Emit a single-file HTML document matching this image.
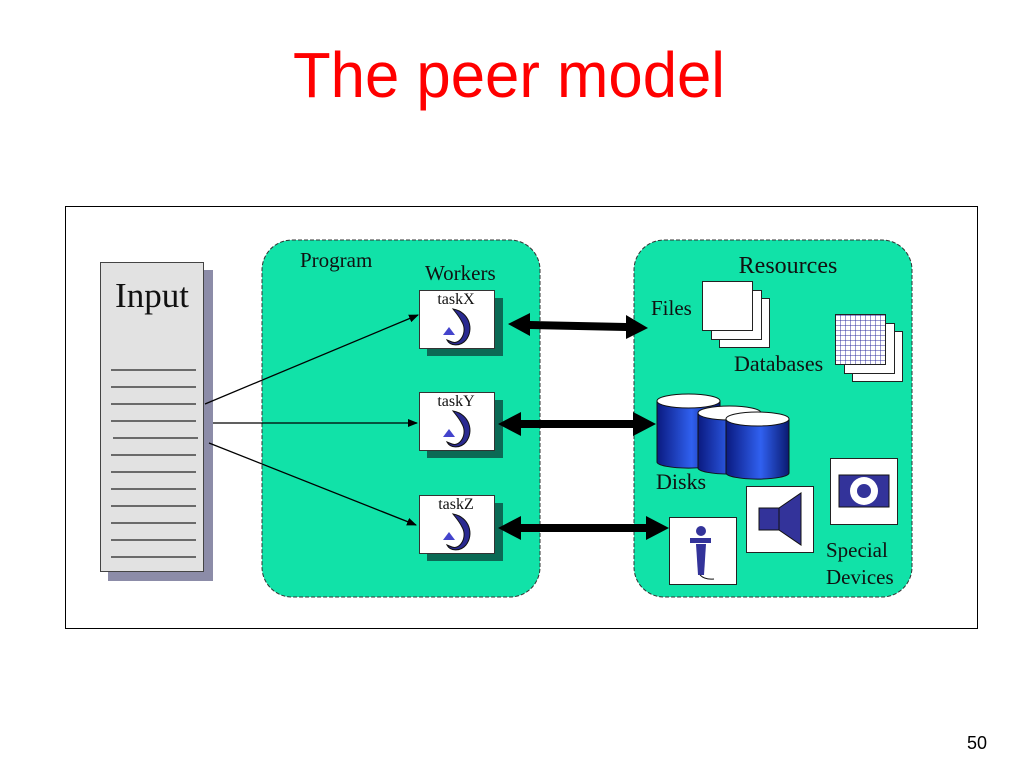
<!DOCTYPE html>
<html><head><meta charset="utf-8"><style>
html,body{margin:0;padding:0;background:#fff;}
svg{display:block;}
.s{font-family:"Liberation Serif",serif;fill:#111;}
</style></head><body>
<svg width="1024" height="768" viewBox="0 0 1024 768" xmlns="http://www.w3.org/2000/svg">
<defs>
<marker id="ah" markerWidth="10" markerHeight="8" refX="9" refY="4" orient="auto" markerUnits="userSpaceOnUse"><path d="M0,0 L10,4 L0,8 z" fill="#000"/></marker>
<linearGradient id="cg" x1="0" x2="1" y1="0" y2="0"><stop offset="0" stop-color="#0a1a80"/><stop offset="0.55" stop-color="#3060f0"/><stop offset="1" stop-color="#0a1a70"/></linearGradient>
<pattern id="grid" width="5" height="5" patternUnits="userSpaceOnUse"><rect width="5" height="5" fill="#fff"/><path d="M0,0 H5 M0,0 V5" stroke="#3030a0" stroke-width="1"/></pattern>
</defs>
<text x="293" y="97" textLength="432" lengthAdjust="spacingAndGlyphs" font-family="Liberation Sans,sans-serif" font-size="64" fill="#ff0000">The peer model</text>
<rect x="65.5" y="206.5" width="912" height="422" fill="#fff" stroke="#000"/>
<rect x="262" y="240" width="278" height="357" rx="30" fill="#11e2a8" stroke="#333" stroke-dasharray="4,2"/>
<rect x="634" y="240" width="278" height="357" rx="30" fill="#11e2a8" stroke="#333" stroke-dasharray="4,2"/>
<!-- input -->
<rect x="108" y="270" width="105" height="311" fill="#8c8ca8"/>
<rect x="100.5" y="262.5" width="103" height="309" fill="#e2e2e2" stroke="#444"/>
<text x="152" y="307" class="s" font-size="35" text-anchor="middle">Input</text>
<g stroke="#222" stroke-width="1.2">
<line x1="111" y1="370" x2="196" y2="370"/><line x1="111" y1="387" x2="196" y2="387"/><line x1="111" y1="404" x2="196" y2="404"/><line x1="111" y1="421" x2="196" y2="421"/><line x1="113" y1="438" x2="198" y2="438"/><line x1="111" y1="455" x2="196" y2="455"/><line x1="111" y1="472" x2="196" y2="472"/><line x1="111" y1="489" x2="196" y2="489"/><line x1="111" y1="506" x2="196" y2="506"/><line x1="111" y1="523" x2="196" y2="523"/><line x1="111" y1="540" x2="196" y2="540"/><line x1="111" y1="557" x2="196" y2="557"/>
</g>
<text x="300" y="267" class="s" font-size="21">Program</text>
<text x="425" y="280" class="s" font-size="21">Workers</text>
<g stroke="#000" stroke-width="1.3" marker-end="url(#ah)">
<line x1="205" y1="404" x2="418" y2="315"/><line x1="213" y1="423" x2="417" y2="423"/><line x1="209" y1="443" x2="416" y2="525"/>
</g>
<!-- tasks -->
<g id="t">
<rect x="427" y="298" width="76" height="58" fill="#0b6a55"/>
<rect x="419.5" y="290.5" width="75" height="58" fill="#fff" stroke="#333"/>
<path d="M453,309 C470,312 474,330 466,340 C460,347 450,346 447,340 L452,342 C460,345 468,332 462,322 C459,316 456,313 453,309 z" fill="#2a2a90" stroke="#111" stroke-width="1"/>
<polygon points="443,335 449,327 455,335" fill="#4444cc"/>
</g>
<text x="456" y="304" class="s" font-size="16" text-anchor="middle">taskX</text>
<use href="#t" transform="translate(0,102)"/>
<text x="456" y="406" class="s" font-size="16" text-anchor="middle">taskY</text>
<use href="#t" transform="translate(0,205)"/>
<text x="456" y="509" class="s" font-size="16" text-anchor="middle">taskZ</text>
<!-- double arrows -->
<g fill="#000">
<path d="M508,324 L530,313 L530,321 L626,323 L626,315 L648,328 L626,339 L626,331 L530,329 L530,336 z"/>
<path d="M498,424 L521,412 L521,420 L633,420 L633,412 L656,424 L633,436 L633,428 L521,428 L521,436 z"/>
<path d="M498,528 L521,516 L521,524 L646,524 L646,516 L669,528 L646,540 L646,532 L521,532 L521,540 z"/>
</g>
<!-- resources -->
<text x="788" y="273" class="s" font-size="24" text-anchor="middle">Resources</text>
<text x="651" y="315" class="s" font-size="21">Files</text>
<g fill="#fff" stroke="#222">
<rect x="719.5" y="298.5" width="50" height="49"/><rect x="711.5" y="290.5" width="50" height="49"/><rect x="702.5" y="281.5" width="50" height="49"/>
<rect x="852.5" y="331.5" width="50" height="50"/><rect x="844.5" y="323.5" width="50" height="50"/>
</g>
<rect x="835.5" y="314.5" width="50" height="50" fill="url(#grid)" stroke="#222"/>
<text x="734" y="371" class="s" font-size="22">Databases</text>
<!-- cylinders -->
<g stroke="#111">
<path d="M657,401 V462 A31,6 0 0 0 720,462 V401" fill="url(#cg)"/><ellipse cx="688.5" cy="401" rx="31.5" ry="7" fill="#fff"/>
<path d="M698,413 V468 A31,6 0 0 0 761,468 V413" fill="url(#cg)"/><ellipse cx="729.5" cy="413" rx="31.5" ry="7" fill="#fff"/>
<path d="M726,419 V473 A31,6 0 0 0 789,473 V419" fill="url(#cg)"/><ellipse cx="757.5" cy="419" rx="31.5" ry="7" fill="#fff"/>
</g>
<text x="656" y="489" class="s" font-size="22">Disks</text>
<!-- devices -->
<g fill="#fff" stroke="#222">
<rect x="830.5" y="458.5" width="67" height="66"/><rect x="746.5" y="486.5" width="67" height="66"/><rect x="669.5" y="517.5" width="67" height="67"/>
</g>
<rect x="839" y="475" width="50" height="32" fill="#33339a" stroke="#111"/>
<circle cx="864" cy="491" r="14" fill="#fff"/><circle cx="864" cy="491" r="7" fill="#33339a"/>
<rect x="759" y="508" width="20" height="22" fill="#33339a" stroke="#111"/>
<polygon points="779,508 801,493 801,545 779,530" fill="#33339a" stroke="#111"/>
<circle cx="701" cy="531" r="5" fill="#33339a"/>
<rect x="690" y="538" width="21" height="5" fill="#33339a"/>
<polygon points="696,544 706,544 704,575 698,575" fill="#33339a"/>
<path d="M700,575 Q705,580 714,579" stroke="#111" fill="none"/>
<text x="826" y="557" class="s" font-size="21">Special</text>
<text x="826" y="584" class="s" font-size="21">Devices</text>
<text x="977" y="749" font-family="Liberation Sans,sans-serif" font-size="18" text-anchor="middle" fill="#000">50</text>
</svg>
</body></html>
